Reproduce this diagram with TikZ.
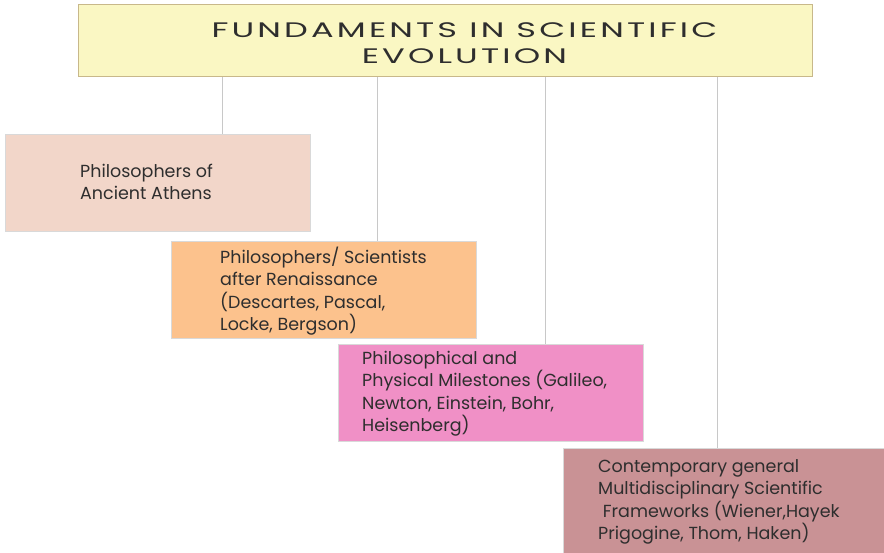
\documentclass[tikz,border=0pt]{standalone}
\usepackage{fontspec}
\setmainfont{Poppins}
\newfontfamily\widefont[FakeStretch=1.6,LetterSpace=15]{Poppins}
\usepackage{tikz}
\usetikzlibrary{positioning}
\definecolor{titlefill}{HTML}{FAF7C3}
\definecolor{titleline}{HTML}{C8B88A}
\definecolor{athensfill}{HTML}{F2D6C9}
\definecolor{renfill}{HTML}{FCC28D}
\definecolor{milefill}{HTML}{F090C6}
\definecolor{modfill}{HTML}{C99295}
\definecolor{stemgray}{HTML}{C8C8C8}
\definecolor{inkgray}{HTML}{2E2E2E}
\tikzstyle{era}=[draw=black!15, line width=0.8pt, anchor=north west,
                 minimum width=305pt, minimum height=97pt, inner sep=0]
\tikzstyle{etext}=[anchor=west, align=left, inner sep=0, text=inkgray,
                   font=\fontsize{17.5}{22.5}\selectfont]
\tikzstyle{stem}=[draw=stemgray, line width=0.8pt]
\begin{document}
\begin{tikzpicture}[x=1pt,y=-1pt]
\path[use as bounding box] (0,0) rectangle (884,552);
\node[draw=titleline, fill=titlefill, line width=0.8pt, anchor=north west,
      minimum width=734pt, minimum height=72pt, inner sep=0] (title) at (78,4) {};
\node[align=center, inner sep=0, text=inkgray,
      font=\widefont\fontsize{21}{26.5}\selectfont]
  (title-txt) at ([xshift=19pt,yshift=-3pt]title.center) {FUNDAMENTS IN SCIENTIFIC\\EVOLUTION};
% era boxes
\node[era, fill=athensfill] (athens) at (5,134) {};
\node[era, fill=renfill] (ren) at (171,241) {};
\node[era, fill=milefill] (mile) at (338,344) {};
\node[era, fill=modfill, minimum width=322pt, minimum height=105pt] (mod) at (563,448) {};
\node[etext] (athens-txt) at ([xshift=75pt,yshift=1pt]athens.west)
  {Philosophers of\\Ancient Athens};
\node[etext] (ren-txt) at ([xshift=49pt,yshift=-1pt]ren.west)
  {Philosophers/ Scientists\\after Renaissance\\(Descartes, Pascal,\\Locke, Bergson)};
\node[etext] (mile-txt) at ([xshift=24pt,yshift=-1pt]mile.west)
  {Philosophical and\\Physical Milestones (Galileo,\\Newton, Einstein, Bohr,\\Heisenberg)};
\node[etext] (mod-txt) at ([xshift=35pt,yshift=-1pt]mod.west)
  {Contemporary general\\Multidisciplinary Scientific\\\ Frameworks (Wiener,Hayek\\Prigogine, Thom, Haken)};
% stems from the title
\path[stem]
  (title.south -| 222,0) edge (athens.north -| 222,0)
  (title.south -| 377,0) edge (ren.north -| 377,0)
  (title.south -| 545,0) edge (mile.north -| 545,0)
  (title.south -| 717,0) edge (mod.north -| 717,0);
\end{tikzpicture}
\end{document}
